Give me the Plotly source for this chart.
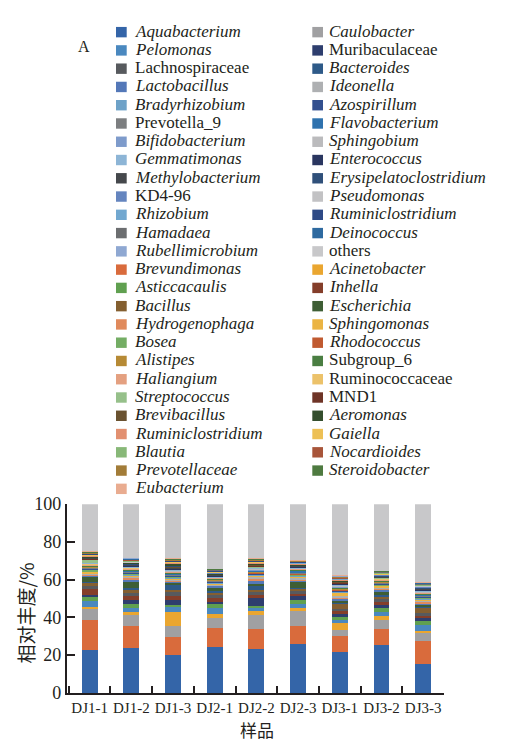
import plotly.graph_objects as go

W, H = 516, 748

samples = ["DJ1-1", "DJ1-2", "DJ1-3", "DJ2-1", "DJ2-2", "DJ2-3", "DJ3-1", "DJ3-2", "DJ3-3"]

# Genera in stacking order (bottom to top)
genera = [
    "Aquabacterium", "Brevundimonas", "Caulobacter", "Acinetobacter",
    "Pelomonas", "Asticcacaulis", "Muribaculaceae", "Inhella",
    "Lachnospiraceae", "Bacillus", "Bacteroides", "Escherichia",
    "Lactobacillus", "Hydrogenophaga", "Ideonella", "Sphingomonas",
    "Bradyrhizobium", "Bosea", "Azospirillum", "Rhodococcus",
    "Prevotella_9", "Alistipes", "Flavobacterium", "Subgroup_6",
    "Bifidobacterium", "Haliangium", "Sphingobium", "Ruminococcaceae",
    "Gemmatimonas", "Streptococcus", "Enterococcus", "MND1",
    "Methylobacterium", "Brevibacillus", "Erysipelatoclostridium", "Aeromonas",
    "KD4-96", "Ruminiclostridium", "Pseudomonas", "Gaiella",
    "Rhizobium", "Blautia", "Ruminiclostridium", "Nocardioides",
    "Hamadaea", "Prevotellaceae", "Deinococcus", "Steroidobacter",
    "Rubellimicrobium", "Eubacterium", "others",
]

# Names written upright (not genus names)
upright = {"Lachnospiraceae", "Prevotella_9", "KD4-96", "Muribaculaceae",
           "others", "Subgroup_6", "Ruminococcaceae", "MND1"}

colors = [
    "#3465a8", "#d96b3c", "#a0a0a2", "#eaa630",
    "#4a88bf", "#60a050", "#2e3e6e", "#843e2a",
    "#575a5e", "#845f30", "#2e5a88", "#3e5e35",
    "#5478b8", "#e08a5c", "#aeb0b2", "#ebb443",
    "#6ea2c8", "#74ad64", "#33508f", "#c05a30",
    "#7c7e80", "#b68a35", "#2f72ae", "#4a7e42",
    "#7e9bcb", "#e4a080", "#bbbbbd", "#ecc26a",
    "#8db5d6", "#96c08a", "#2a3660", "#6e3426",
    "#45484c", "#6a5230", "#30507a", "#344e2e",
    "#6585bf", "#e29070", "#c2c2c4", "#edc055",
    "#72a8d0", "#88b878", "#2e4a86", "#a8553a",
    "#6c6e70", "#a27c38", "#2e6aa0", "#4e7a40",
    "#8fa8d2", "#e9ac90", "#c8c8ca",
]

# Relative abundance (%) per genus, columns follow `samples`
abundance = [
    [22.7, 23.7, 20.3, 24.2, 23.2, 26.1, 21.8, 25.5, 15.3],
    [16.0, 11.9, 9.3, 10.2, 10.7, 9.5, 8.3, 8.5, 12.2],
    [6.0, 5.6, 5.6, 5.1, 7.3, 7.8, 3.1, 4.7, 4.6],
    [0.8, 1.8, 7.7, 2.1, 2.0, 1.7, 3.8, 2.2, 0.9],
    [3.4, 2.1, 2.5, 3.5, 1.9, 1.9, 1.7, 2.1, 3.1],
    [2.2, 2.1, 1.4, 1.8, 1.0, 2.4, 1.7, 2.2, 2.2],
    [0.7, 2.2, 2.5, 1.2, 4.1, 1.7, 1.2, 1.3, 1.2],
    [3.1, 1.9, 2.2, 2.1, 1.6, 1.2, 1.7, 1.6, 1.2],
    [1.7, 1.7, 1.7, 1.7, 1.5, 1.7, 1.3, 1.5, 1.4],
    [1.7, 1.7, 1.2, 1.0, 1.3, 1.2, 2.6, 1.2, 2.9],
    [0.6, 0.8, 3.1, 1.0, 2.0, 0.6, 0.8, 1.0, 0.8],
    [2.5, 3.0, 0.8, 1.5, 1.0, 3.3, 0.8, 1.4, 0.8],
    [0.8, 1.3, 0.5, 1.2, 1.6, 0.5, 1.0, 1.6, 0.6],
    [0.6, 1.2, 0.5, 0.4, 1.6, 0.6, 0.7, 0.5, 1.1],
    [0.5, 0.6, 0.7, 0.5, 0.6, 0.7, 0.6, 0.6, 0.5],
    [0.7, 0.5, 0.6, 0.5, 0.5, 0.9, 1.8, 0.7, 0.6],
    [0.4, 0.5, 0.4, 0.3, 0.5, 0.4, 0.5, 0.4, 0.5],
    [0.9, 0.5, 0.4, 0.3, 0.4, 0.4, 0.4, 0.4, 0.5],
    [0.3, 0.4, 0.5, 0.3, 0.4, 0.3, 0.4, 0.3, 0.4],
    [0.4, 0.3, 0.4, 0.3, 0.4, 0.4, 0.3, 0.4, 0.3],
    [0.3, 0.4, 0.3, 0.3, 0.3, 0.3, 0.4, 0.3, 0.4],
    [0.4, 0.3, 0.3, 0.3, 0.3, 0.3, 0.3, 0.3, 0.3],
    [0.3, 0.4, 0.3, 0.3, 0.4, 0.9, 0.3, 0.3, 0.4],
    [0.3, 0.3, 0.4, 0.2, 0.3, 0.3, 0.3, 0.3, 0.3],
    [0.3, 0.3, 0.3, 0.3, 0.3, 0.2, 0.3, 0.3, 0.3],
    [0.3, 0.3, 0.4, 0.3, 0.3, 0.3, 0.3, 0.3, 0.3],
    [0.3, 0.3, 0.3, 0.2, 0.3, 0.2, 0.3, 0.3, 0.3],
    [0.3, 0.3, 0.3, 0.2, 0.3, 0.2, 0.3, 0.2, 0.3],
    [0.4, 0.3, 0.3, 0.2, 0.3, 0.2, 0.3, 0.2, 0.3],
    [1.6, 0.3, 0.3, 0.3, 0.3, 0.3, 0.3, 0.3, 0.3],
    [0.3, 0.3, 0.3, 0.2, 0.3, 0.2, 0.3, 0.2, 0.2],
    [0.3, 0.2, 0.3, 0.2, 0.3, 0.2, 0.3, 0.2, 0.3],
    [0.3, 0.3, 0.4, 0.3, 0.3, 0.3, 0.3, 0.3, 0.3],
    [0.3, 0.3, 0.3, 0.2, 0.3, 0.2, 0.3, 0.2, 0.3],
    [0.2, 0.3, 0.3, 0.2, 0.3, 0.2, 0.3, 0.2, 0.3],
    [0.3, 0.4, 1.4, 0.4, 0.3, 0.3, 0.3, 0.3, 0.3],
    [0.2, 0.2, 0.2, 0.2, 0.2, 0.2, 0.2, 0.2, 0.2],
    [0.2, 0.2, 0.2, 0.2, 0.2, 0.2, 0.2, 0.2, 0.2],
    [0.2, 0.2, 0.2, 0.2, 0.2, 0.2, 0.2, 0.2, 0.2],
    [0.2, 0.2, 0.2, 0.2, 0.2, 0.2, 0.2, 0.2, 0.2],
    [0.2, 0.2, 0.2, 0.2, 0.2, 0.2, 0.2, 0.2, 0.2],
    [0.2, 0.2, 0.2, 0.2, 0.2, 0.2, 0.2, 0.2, 0.2],
    [0.2, 0.2, 0.2, 0.2, 0.2, 0.2, 0.2, 0.2, 0.2],
    [0.2, 0.2, 0.2, 0.2, 0.2, 0.2, 0.2, 0.2, 0.2],
    [0.2, 0.2, 0.2, 0.2, 0.2, 0.2, 0.2, 0.2, 0.2],
    [0.3, 0.2, 0.2, 0.2, 0.2, 0.2, 0.2, 0.2, 0.2],
    [0.2, 0.2, 0.2, 0.2, 0.2, 0.2, 0.2, 0.2, 0.2],
    [0.2, 0.2, 0.2, 0.1, 0.2, 0.1, 0.2, 0.1, 0.2],
    [0.2, 0.2, 0.2, 0.1, 0.2, 0.1, 0.2, 0.1, 0.2],
    [0.2, 0.2, 0.2, 0.1, 0.2, 0.1, 0.2, 0.1, 0.2],
    [24.9, 28.4, 28.7, 34.2, 28.7, 29.6, 37.8, 35.2, 41.2],
]

y_ticks = [0, 20, 40, 60, 80, 100]

SERIF = "Liberation Serif, Times New Roman, serif"
CJK = "Noto Sans CJK SC, sans-serif"
INK = "#231f20"

fig = go.Figure()
for name, col, vals in zip(genera, colors, abundance):
    fig.add_trace(go.Bar(
        x=samples, y=vals, name=name,
        marker=dict(color=col, line=dict(width=0)),
        showlegend=False,
    ))

# plot area in pixels
x_left, x_right = 66.7, 444.0
y_top, y_bot = 507.7, 701.7

fig.update_layout(
    width=W, height=H,
    margin=dict(l=0, r=0, t=0, b=0),
    paper_bgcolor="white", plot_bgcolor="white",
    barmode="stack", bargap=0.62,
    xaxis=dict(
        domain=[x_left / W, x_right / W],
        type="category", range=[-0.55, 8.5],
        showline=True, linecolor=INK, linewidth=1.6,
        ticks="inside", ticklen=7, tickwidth=1.5, tickcolor=INK,
        tickson="boundaries", showgrid=False, tickangle=0,
        tickfont=dict(family=SERIF, size=15, color=INK),
    ),
    yaxis=dict(
        domain=[1 - y_bot / H, 1 - y_top / H],
        range=[0, 100], tickvals=y_ticks,
        showline=True, linecolor=INK, linewidth=1.6,
        ticks="inside", ticklen=8, tickwidth=1.5, tickcolor=INK,
        showgrid=False, zeroline=False,
        tickfont=dict(family=SERIF, size=18, color=INK),
    ),
)

annotations = [
    dict(text="相对丰度/%", x=25 / W, y=1 - 620 / H, xref="paper", yref="paper",
         textangle=-90, showarrow=False, xanchor="center", yanchor="middle",
         font=dict(family=CJK, size=19, color=INK)),
    dict(text="样品", x=257 / W, y=1 - 739 / H, xref="paper", yref="paper",
         showarrow=False, xanchor="center", yanchor="middle",
         font=dict(family=CJK, size=17, color=INK)),
    dict(text="A", x=84 / W, y=1 - 38 / H, xref="paper", yref="paper",
         showarrow=False, xanchor="center", yanchor="middle",
         font=dict(family=SERIF, size=16, color=INK)),
]
shapes = []

# Two-column key: series grouped by position in a cycle of four
row0, row_step = 21.7, 18.77
columns = [
    (116.0, 133.0, [0, 1]),   # left column: groups 0 then 1
    (312.3, 327.3, [2, 3]),   # right column: groups 2 then 3
]
for box_x, text_x, groups in columns:
    order = [k for g in groups for k in range(g, len(genera), 4)]
    for row, k in enumerate(order):
        yc = row0 + row * row_step
        name = genera[k]
        label = name if name in upright else f"<i>{name}</i>"
        shapes.append(dict(
            type="rect", xref="paper", yref="paper",
            x0=box_x / W, x1=(box_x + 10.7) / W,
            y0=1 - (yc - 4.3) / H, y1=1 - (yc + 6.4) / H,
            fillcolor=colors[k], line=dict(width=0),
        ))
        annotations.append(dict(
            text=label, x=text_x / W, y=1 - yc / H, xref="paper", yref="paper",
            showarrow=False, xanchor="left", yanchor="middle",
            font=dict(family=SERIF, size=17, color=INK),
        ))

fig.update_layout(annotations=annotations, shapes=shapes)
fig.write_html("out.html")
